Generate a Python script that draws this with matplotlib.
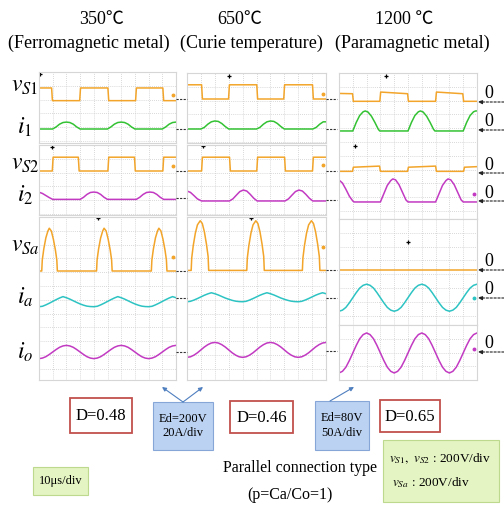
import numpy as np
import matplotlib.pyplot as plt
from matplotlib.patches import Rectangle

plt.rcParams['mathtext.fontset'] = 'stix'
SERIF = ['Liberation Serif', 'Noto Sans CJK SC', 'DejaVu Serif']

# ---------------- data: time in us (10 us/div), level in scope divisions ----------------
t_fine = np.arange(0, 100.1, 2.5)

# 350 C (ferromagnetic)
l_vs1_t = [0, 9.2, 9.8, 29.7, 30.3, 50.3, 50.9, 70.5, 71.1, 90.4, 91.0, 100]
l_vs1 = [0.8, 0.8, -0.12, -0.12, 0.8, 0.8, -0.12, -0.12, 0.8, 0.8, -0.12, -0.12]
l_vs2_t = [0, 9.7, 10.3, 28.7, 29.3, 50.3, 50.9, 69.7, 70.3, 90.4, 91.0, 100]
l_vs2 = [0, 0, 1.0, 1.0, 0, 0, 1.0, 1.0, 0, 0, 1.0, 1.0]
l_i1_starts = [10, 50, 90]
l_i1_shape = [0, 0.15, 0.35, 0.47, 0.5, 0.47, 0.35, 0.15, 0]
l_i2_lead = [0.42, 0.33, 0.18, 0.03, -0.1]
l_i2_starts = [30, 71]
l_i2_shape = [0, 0.15, 0.36, 0.5, 0.53, 0.5, 0.36, 0.15, 0]
l_vsa_starts = [2, 42, 82]
l_vsa_shape_t = [0, 0.4, 1.5, 3, 4.5, 5.5, 7, 8.5, 10, 11, 11.4]
l_vsa_shape = [0, 0.8, 1.6, 2.4, 2.9, 3.1, 2.9, 2.3, 1.5, 0.8, 0]
l_ia = [-0.63, -0.6, -0.5, -0.38, -0.25, -0.12, 0.0, 0.1, 0.02, -0.08, -0.2, -0.32, -0.43, -0.52, -0.59, -0.62,
        -0.63, -0.6, -0.5, -0.38, -0.25, -0.12, 0.0, 0.1, 0.02, -0.08, -0.2, -0.32, -0.43, -0.52, -0.59, -0.62,
        -0.63, -0.6, -0.5, -0.38, -0.25, -0.12, 0.0, 0.1, 0.02]
l_io = [-0.48, -0.44, -0.34, -0.18, 0.0, 0.18, 0.34, 0.44, 0.48, 0.44, 0.34, 0.18, 0.0, -0.18, -0.34, -0.44,
        -0.48, -0.44, -0.34, -0.18, 0.0, 0.18, 0.34, 0.44, 0.48, 0.44, 0.34, 0.18, 0.0, -0.18, -0.34, -0.44,
        -0.48, -0.44, -0.34, -0.18, 0.0, 0.18, 0.34, 0.44, 0.48]

# 650 C (Curie temperature)
m_vs1_t = [0, 10.5, 11.1, 29.9, 30.5, 50.2, 50.8, 69.6, 70.2, 90.3, 90.9, 100]
m_vs1 = [1.03, 1.03, 0, 0, 1.03, 1.03, 0, 0, 1.03, 1.03, 0, 0]
m_vs2_t = [0, 10.5, 11.1, 30.6, 31.2, 50.2, 50.8, 70.2, 70.8, 90.3, 90.9, 100]
m_vs2 = [0, 0, 1.0, 1.0, 0, 0, 1.0, 1.0, 0, 0, 1.0, 1.0]
m_i1_starts = [10, 50, 90.5]
m_i1_shape = [0, 0.12, 0.35, 0.52, 0.58, 0.55, 0.4, 0.18, 0]
m_i2_lead = [0.65, 0.55, 0.32, 0.08, -0.07]
m_i2_starts = [30.5, 70.5]
m_i2_shape = [0, 0.15, 0.42, 0.68, 0.79, 0.72, 0.48, 0.2, 0]
m_vsa_starts = [3, 43, 83]
m_vsa_shape_t = [0, 0.4, 1.5, 3, 4.5, 6.5, 8, 9.5, 11, 12.2, 12.6]
m_vsa_shape = [0, 0.9, 1.8, 2.7, 3.3, 3.6, 3.4, 2.8, 1.9, 1.0, 0]
m_ia = [-0.27, -0.24, -0.15, -0.04, 0.08, 0.2, 0.3, 0.38, 0.31, 0.22, 0.11, 0.0, -0.09, -0.17, -0.23, -0.26,
        -0.27, -0.24, -0.15, -0.04, 0.08, 0.2, 0.3, 0.38, 0.31, 0.22, 0.11, 0.0, -0.09, -0.17, -0.23, -0.26,
        -0.27, -0.24, -0.15, -0.04, 0.08, 0.2, 0.3, 0.38, 0.31]
m_io = [-0.46, -0.42, -0.3, -0.13, 0.08, 0.29, 0.46, 0.58, 0.62, 0.58, 0.46, 0.29, 0.08, -0.13, -0.3, -0.42,
        -0.46, -0.42, -0.3, -0.13, 0.08, 0.29, 0.46, 0.58, 0.62, 0.58, 0.46, 0.29, 0.08, -0.13, -0.3, -0.42,
        -0.46, -0.42, -0.3, -0.13, 0.08, 0.29, 0.46, 0.58, 0.62]

# 1200 C (paramagnetic)
r_vs1_t = [0, 9.8, 10.4, 29.6, 30.2, 49.7, 50.3, 70.0, 70.6, 89.7, 90.3, 100]
r_vs1 = [0.62, 0.6, 0.05, 0.05, 0.72, 0.6, 0.05, 0.05, 0.72, 0.6, 0.05, 0.05]
r_vs2_t = [0, 9.8, 10.4, 29.4, 30.0, 49.7, 50.3, 70.0, 70.6, 90.3, 90.9, 100]
r_vs2 = [0.12, 0.12, 0.42, 0.5, 0.12, 0.12, 0.42, 0.5, 0.12, 0.12, 0.42, 0.46]
r_i1_starts = [10, 50, 90]
r_hump_t = [0, 2.5, 5, 7.5, 9, 11, 13.5, 16, 18.5, 19.5]
r_i1_shape = [0, 0.62, 1.12, 1.39, 1.45, 1.37, 1.07, 0.62, 0.12, 0]
r_i2_lead_t = [0, 2.5, 5, 7.5, 10, 11]
r_i2_lead = [1.52, 1.3, 0.85, 0.35, 0.0, -0.07]
r_i2_starts = [30, 70]
r_i2_hump_t = [0, 2.5, 5, 7.5, 9, 11, 13.5, 16, 18.5, 20]
r_i2_shape = [0, 0.6, 1.2, 1.55, 1.67, 1.6, 1.25, 0.7, 0.15, 0]
r_vsa_t = [0, 100]
r_vsa = [0, 0]
r_ia = [-0.96, -0.88, -0.68, -0.35, 0.02, 0.39, 0.72, 0.92, 1.0, 0.92, 0.72, 0.39, 0.02, -0.35, -0.68, -0.88,
        -0.96, -0.88, -0.68, -0.35, 0.02, 0.39, 0.72, 0.92, 1.0, 0.92, 0.72, 0.39, 0.02, -0.35, -0.68, -0.88,
        -0.96, -0.88, -0.68, -0.35, 0.02, 0.39, 0.72, 0.92, 1.0]
r_io = [-1.52, -1.4, -1.1, -0.62, -0.07, 0.48, 0.96, 1.26, 1.38, 1.26, 0.96, 0.48, -0.07, -0.62, -1.1, -1.4,
        -1.52, -1.4, -1.1, -0.62, -0.07, 0.48, 0.96, 1.26, 1.38, 1.26, 0.96, 0.48, -0.07, -0.62, -1.1, -1.4,
        -1.52, -1.4, -1.1, -0.62, -0.07, 0.48, 0.96, 1.26, 1.38]

hump_t = [0, 2.5, 5, 7.5, 10, 12.5, 15, 17.5, 20]
lead_t = [0, 2.5, 5, 7.5, 10]

titles = [('350℃', '(Ferromagnetic metal)'), ('650℃', '(Curie temperature)'),
          ('1200 ℃', '(Paramagnetic metal)')]
duty = ['D=0.48', 'D=0.46', 'D=0.65']
scales = ['Ed=200V\n20A/div', 'Ed=80V\n50A/div']


def tile(starts, shape_t, shape_v, base, first_t=(0,), first_v=None):
    t = list(first_t)
    v = list(first_v) if first_v is not None else [base]
    for s in starts:
        for dt, dv in zip(shape_t, shape_v):
            if s + dt <= 100:
                t.append(s + dt)
                v.append(base + dv)
    if t[-1] < 100:
        t.append(100)
        v.append(v[-1])
    return t, v


ORANGE, GREEN, MAGENTA, CYAN = '#f2a52a', '#33c233', '#c23ac2', '#2ec3c3'

traces = {
    'left': {
        'vs1': (l_vs1_t, l_vs1, ORANGE),
        'i1': tile(l_i1_starts, hump_t, l_i1_shape, 0) + (GREEN,),
        'vs2': (l_vs2_t, l_vs2, ORANGE),
        'i2': tile(l_i2_starts, hump_t, l_i2_shape, -0.1, lead_t, l_i2_lead) + (MAGENTA,),
        'vsa': tile(l_vsa_starts, l_vsa_shape_t, l_vsa_shape, 0) + (ORANGE,),
        'ia': (t_fine, l_ia, CYAN),
        'io': (t_fine, l_io, MAGENTA),
    },
    'mid': {
        'vs1': (m_vs1_t, m_vs1, ORANGE),
        'i1': tile(m_i1_starts, hump_t, m_i1_shape, 0) + (GREEN,),
        'vs2': (m_vs2_t, m_vs2, ORANGE),
        'i2': tile(m_i2_starts, hump_t, m_i2_shape, -0.07, [0, 2.5, 5, 7.5, 10.5], m_i2_lead) + (MAGENTA,),
        'vsa': tile(m_vsa_starts, m_vsa_shape_t, m_vsa_shape, -0.03) + (ORANGE,),
        'ia': (t_fine, m_ia, CYAN),
        'io': (t_fine, m_io, MAGENTA),
    },
    'right': {
        'vs1': (r_vs1_t, r_vs1, ORANGE),
        'i1': tile(r_i1_starts, r_hump_t, r_i1_shape, -0.07) + (GREEN,),
        'vs2': (r_vs2_t, r_vs2, ORANGE),
        'i2': tile(r_i2_starts, r_i2_hump_t, r_i2_shape, -0.07, r_i2_lead_t, r_i2_lead) + (MAGENTA,),
        'vsa': (r_vsa_t, r_vsa, ORANGE),
        'ia': (t_fine, r_ia, CYAN),
        'io': (t_fine, r_io, MAGENTA),
    },
}

# ---------------- layout (pixels) ----------------
W, H = 504, 508
DIV = 13.8
layout = {
    'left': dict(x=(39, 176), panels=[(72, 143, [('vs1', 99), ('i1', 129)]),
                                      (145, 215, [('vs2', 171), ('i2', 198)]),
                                      (217, 380, [('vsa', 271), ('ia', 298), ('io', 352)])],
                 trig=[[(0.7, 0.15)], [(9.5, 0.15)], [(43, 0.1)]]),
    'mid': dict(x=(187, 326), panels=[(73, 143, [('vs1', 99), ('i1', 129)]),
                                      (145, 215, [('vs2', 171), ('i2', 200)]),
                                      (217, 380, [('vsa', 270), ('ia', 298), ('io', 351)])],
                trig=[[(30, 0.2)], [(11.5, 0.1)], [(46, 0.1)]]),
    'right': dict(x=(339, 477), panels=[(73, 219, [('vs1', 102), ('i1', 130), ('vs2', 173), ('i2', 201)]),
                                        (219, 325, [('vsa', 270), ('ia', 298)]),
                                        (325, 380, [('io', 352)])],
                  trig=[[(34, 0.2), (11.6, 5.3)], [(50, 1.7)], []]),
}
level_marks = {'left': {'vs1': 0.3, 'vs2': 0.36, 'vsa': 1.0},
               'mid': {'vs1': 0.36, 'vs2': 0.43, 'vsa': 1.7},
               'right': {'i2': 0.5, 'ia': 0.0, 'io': 0.2}}
labels = [(r'$v_{S1}$', 85), (r'$i_{1}$', 127), (r'$v_{S2}$', 163), (r'$i_{2}$', 195),
          (r'$v_{Sa}$', 245), (r'$i_{a}$', 297), (r'$i_{o}$', 352)]

fig = plt.figure(figsize=(W / 100, H / 100), dpi=100)
over = fig.add_axes([0, 0, 1, 1], zorder=5)
over.set_xlim(0, W)
over.set_ylim(H, 0)
over.axis('off')

for key, col in layout.items():
    x0, x1 = col['x']
    for (top, bot, chans), trig in zip(col['panels'], col['trig']):
        hdiv = (bot - top) / DIV
        ax = fig.add_axes([x0 / W, 1 - bot / H, (x1 - x0) / W, (bot - top) / H])
        ax.set_xlim(0, 100)
        ax.set_ylim(0, hdiv)
        ax.set_xticks(np.arange(10, 100, 10))
        ax.set_yticks(hdiv - np.arange(1, int(hdiv) + 1))
        ax.grid(True, color='#cccccc', ls=(0, (1, 1.5)), lw=0.6)
        ax.tick_params(length=0, labelbottom=False, labelleft=False)
        for s in ax.spines.values():
            s.set_color('#d6d6d6')
            s.set_linewidth(0.8)
        for name, zero in chans:
            t, v, c = traces[key][name]
            off = (bot - zero) / DIV
            ax.plot(t, np.asarray(v) + off, color=c, lw=1.1, solid_joinstyle='round')
            if name in level_marks[key]:
                ax.plot(98, off + level_marks[key][name], 'o', ms=1.8, color=c, clip_on=False)
            # zero reference markers outside the panel
            if key == 'right':
                over.annotate('', xy=(478, zero), xytext=(504, zero),
                              arrowprops=dict(arrowstyle='-|>', ls=(0, (2, 1.5)), lw=0.8,
                                              color='#222222', mutation_scale=6, shrinkA=0, shrinkB=0))
                over.text(489, zero - 8, '0', family=SERIF, fontsize=13, ha='center', va='center')
            else:
                over.plot([x1, x1 + 11], [zero, zero], ls=(0, (2, 1.2)), color='#333333', lw=0.8)
        for tt, depth in trig:
            ax.plot(tt, hdiv - depth, marker='+', ms=3.5, mew=0.9, color='black')

# signal names
for txt, y in labels:
    over.text(25, y, txt, fontsize=17, ha='center', va='center')

# column titles
title_x = [(102, 89), (240, 251), (404, 412)]
for (a, b), (xa, xb) in zip(titles, title_x):
    over.text(xa, 19, a, family=SERIF, fontsize=13, ha='center', va='center')
    over.text(xb, 43, b, family=SERIF, fontsize=13, ha='center', va='center')

# duty boxes
for txt, (bx0, by0, bx1, by1) in zip(duty, [(70, 398, 132, 433), (230, 401, 293, 433), (380, 400, 440, 432)]):
    over.add_patch(Rectangle((bx0, by0), bx1 - bx0, by1 - by0, fc='white', ec='#c0504d', lw=1.3))
    over.text((bx0 + bx1) / 2, (by0 + by1) / 2 + 1, txt, family=SERIF, fontsize=12, ha='center', va='center')

# probe scale boxes with arrows
for txt, (bx0, by0, bx1, by1) in zip(scales, [(153, 402, 213, 450), (315, 401, 369, 450)]):
    over.add_patch(Rectangle((bx0, by0), bx1 - bx0, by1 - by0, fc='#bcd2f2', ec='#86a6d8', lw=0.8))
    over.text((bx0 + bx1) / 2, (by0 + by1) / 2, txt, family=SERIF, fontsize=9, ha='center', va='center',
              linespacing=1.3)
for (ax0, ay0), (ax1, ay1) in [((183, 402), (162, 387)), ((183, 402), (203, 387)), ((330, 401), (354, 387))]:
    over.annotate('', xy=(ax1, ay1), xytext=(ax0, ay0),
                  arrowprops=dict(arrowstyle='-|>', color='#4f7fbf', lw=0.8, mutation_scale=6,
                                  shrinkA=0, shrinkB=0))

# time base box
over.add_patch(Rectangle((33, 467), 55, 28, fc='#e4f4c2', ec='#bcd98e', lw=0.8))
over.text(60.5, 481, '10μs/div', family=SERIF, fontsize=9, ha='center', va='center')

# voltage scale box
over.add_patch(Rectangle((383, 440), 116, 62, fc='#e4f4c2', ec='#bcd98e', lw=0.8))
over.text(389, 459, r'$v_{S1},\ v_{S2}$ : 200V/div', family=SERIF, fontsize=9.5, ha='left', va='center')
over.text(392, 483, r'$v_{Sa}$ : 200V/div', family=SERIF, fontsize=9.5, ha='left', va='center')

over.text(300, 468, 'Parallel connection type', family=SERIF, fontsize=11.5, ha='center', va='center')
over.text(290, 495, '(p=Ca/Co=1)', family=SERIF, fontsize=11.5, ha='center', va='center')

fig.savefig('out.png', dpi=100)
